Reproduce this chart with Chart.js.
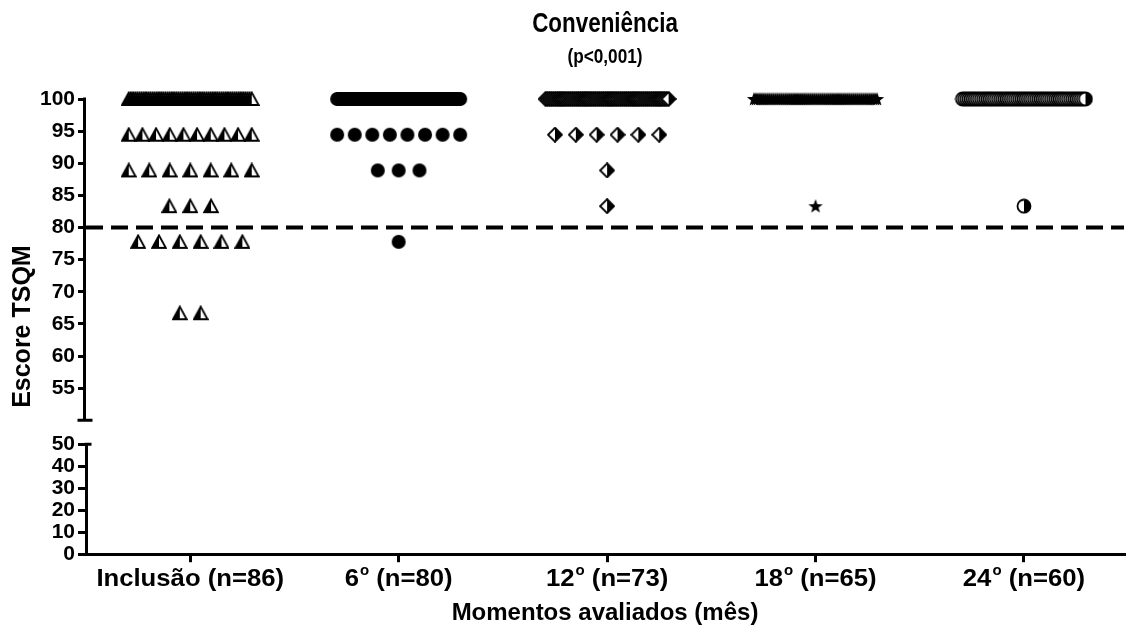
<!DOCTYPE html>
<html lang="pt">
<head>
<meta charset="utf-8">
<title>Conveniência</title>
<script src="https://cdn.jsdelivr.net/npm/chart.js@4.4.0/dist/chart.umd.min.js"></script>
<style>
  html, body { margin: 0; padding: 0; background: #fff; }
  #chart { display: block; }
</style>
</head>
<body>
<canvas id="chart" width="1132" height="630"></canvas>
<script>
const categories = ['Inclusão', '6', '12', '18', '24'];
const ordinals = [false, true, true, true, true];
const sampleSizes = [86, 80, 73, 65, 60];

// possible TSQM convenience scores, and how many patients scored each one per visit
const scoreLevels = [100, 94.44, 88.89, 83.33, 77.78, 66.67];
const countsInclusao = [58, 10, 7, 3, 6, 2];
const counts6 = [68, 8, 3, 0, 1, 0];
const counts12 = [65, 6, 1, 1, 0, 0];
const counts18 = [64, 0, 0, 1, 0, 0];
const counts24 = [59, 0, 0, 1, 0, 0];

const upperTicks = [55, 60, 65, 70, 75, 80, 85, 90, 95, 100];
const lowerTicks = [0, 10, 20, 30, 40, 50];
const cutoff = 80;
const upperAxisEnd = 50;

const chartTitle = 'Conveniência';
const chartSubtitle = '(p<0,001)';

const sans = "'Liberation Sans', Arial, Helvetica, sans-serif";

// symbols, drawn once on small canvases and used as pointStyle
function makeMarker(draw) {
  const c = document.createElement('canvas');
  c.width = 16;
  c.height = 16;
  const g = c.getContext('2d');
  g.fillStyle = '#000';
  g.strokeStyle = '#000';
  g.lineWidth = 1.8;
  g.lineJoin = 'miter';
  draw(g);
  return c;
}

const halfTriangle = makeMarker(g => {
  g.fillStyle = '#fff';
  g.beginPath(); g.moveTo(8, 1.5); g.lineTo(14.8, 14); g.lineTo(1.2, 14); g.closePath(); g.fill();
  g.fillStyle = '#000';
  g.beginPath(); g.moveTo(8, 1.5); g.lineTo(8, 14); g.lineTo(1.2, 14); g.closePath(); g.fill();
  g.beginPath(); g.moveTo(8, 1.5); g.lineTo(14.8, 14); g.lineTo(1.2, 14); g.closePath(); g.stroke();
});

const dot = makeMarker(g => {
  g.beginPath(); g.arc(8, 8, 7, 0, Math.PI * 2); g.fill();
});

const halfDiamond = makeMarker(g => {
  g.fillStyle = '#fff';
  g.beginPath(); g.moveTo(8, 1); g.lineTo(15, 8); g.lineTo(8, 15); g.lineTo(1, 8); g.closePath(); g.fill();
  g.fillStyle = '#000';
  g.beginPath(); g.moveTo(8, 1); g.lineTo(15, 8); g.lineTo(8, 15); g.closePath(); g.fill();
  g.beginPath(); g.moveTo(8, 1); g.lineTo(15, 8); g.lineTo(8, 15); g.lineTo(1, 8); g.closePath(); g.stroke();
});

const star = makeMarker(g => {
  g.beginPath();
  for (let i = 0; i < 10; i++) {
    const r = i % 2 === 0 ? 7.5 : 3.1;
    const a = -Math.PI / 2 + i * Math.PI / 5;
    const px = 8 + r * Math.cos(a), py = 8.5 + r * Math.sin(a);
    if (i === 0) g.moveTo(px, py); else g.lineTo(px, py);
  }
  g.closePath();
  g.fill();
});

const halfCircle = makeMarker(g => {
  g.fillStyle = '#fff';
  g.beginPath(); g.arc(8, 8, 6.5, 0, Math.PI * 2); g.fill();
  g.fillStyle = '#000';
  g.beginPath(); g.arc(8, 8, 6.5, -Math.PI / 2, Math.PI / 2); g.closePath(); g.fill();
  g.beginPath(); g.arc(8, 8, 6.5, 0, Math.PI * 2); g.stroke();
});

// spread patients with the same score sideways around the column centre
function columnPoints(groupIndex, counts) {
  const pts = [];
  counts.forEach((n, k) => {
    const step = n > 1 ? Math.min(0.1, 0.59 / (n - 1)) : 0;
    for (let i = 0; i < n; i++) {
      pts.push({ x: groupIndex + (i - (n - 1) / 2) * step, y: scoreLevels[k] });
    }
  });
  return pts;
}

const groups = [
  { counts: countsInclusao, marker: halfTriangle },
  { counts: counts6, marker: dot },
  { counts: counts12, marker: halfDiamond },
  { counts: counts18, marker: star },
  { counts: counts24, marker: halfCircle }
];

const datasets = groups.map((grp, i) => ({
  label: categories[i],
  data: columnPoints(i, grp.counts),
  yAxisID: 'yTop',
  pointStyle: grp.marker,
  pointRadius: 7,
  pointHoverRadius: 7,
  clip: false
}));

// text squeezed or stretched sideways around its centre
function drawScaledText(ctx, text, cx, y, font, sx) {
  ctx.save();
  ctx.font = font;
  ctx.textAlign = 'center';
  ctx.textBaseline = 'alphabetic';
  ctx.translate(cx, y);
  ctx.scale(sx, 1);
  ctx.fillText(text, 0, 0);
  ctx.restore();
}

const decorations = {
  id: 'decorations',
  beforeDatasetsDraw(chart) {
    const { ctx, chartArea, scales: { yTop } } = chart;
    const y = yTop.getPixelForValue(cutoff);
    ctx.save();
    ctx.strokeStyle = '#000';
    ctx.lineWidth = 4;
    ctx.setLineDash([17, 8]);
    ctx.beginPath();
    ctx.moveTo(chartArea.left, y);
    ctx.lineTo(chartArea.right, y);
    ctx.stroke();
    ctx.restore();
  },
  afterDraw(chart) {
    const { ctx, chartArea, scales: { x, yTop, yBottom } } = chart;
    const ax = chartArea.left - 1.5;
    const midX = (chartArea.left + chartArea.right) / 2;
    ctx.save();
    ctx.fillStyle = '#000';
    ctx.strokeStyle = '#000';
    ctx.lineWidth = 3;

    // title block
    drawScaledText(ctx, chartTitle, midX, 32, 'bold 27px ' + sans, 0.83);
    drawScaledText(ctx, chartSubtitle, midX, 63, 'bold 20px ' + sans, 0.86);

    // upper piece of the broken y axis, with its end cap
    const yHi = yTop.getPixelForValue(upperTicks[upperTicks.length - 1]) - 1.5;
    const yLo = yTop.getPixelForValue(upperAxisEnd);
    ctx.beginPath();
    ctx.moveTo(ax, yHi);
    ctx.lineTo(ax, yLo);
    ctx.moveTo(ax - 7, yLo);
    ctx.lineTo(ax + 8, yLo);
    const y50 = yBottom.getPixelForValue(lowerTicks[lowerTicks.length - 1]);
    ctx.moveTo(ax, y50);
    ctx.lineTo(ax + 7, y50);
    ctx.stroke();

    // category labels, with superscript ordinal
    ctx.textBaseline = 'alphabetic';
    ctx.textAlign = 'left';
    const baseFont = 'bold 24px ' + sans;
    const supFont = 'bold 14px ' + sans;
    const stretch = 1.07;
    const baseY = x.top + 32;
    categories.forEach((name, i) => {
      const sup = ordinals[i] ? 'o' : '';
      const rest = ' (n=' + sampleSizes[i] + ')';
      ctx.font = baseFont;
      const w1 = ctx.measureText(name).width;
      const w3 = ctx.measureText(rest).width;
      ctx.font = supFont;
      const w2 = sup ? ctx.measureText(sup).width + 1 : 0;
      ctx.save();
      ctx.translate(x.getPixelForValue(i), baseY);
      ctx.scale(stretch, 1);
      let cx = -(w1 + w2 + w3) / 2;
      ctx.font = baseFont;
      ctx.fillText(name, cx, 0);
      cx += w1;
      if (sup) {
        ctx.font = supFont;
        ctx.fillText(sup, cx + 1, -11);
        cx += w2;
      }
      ctx.font = baseFont;
      ctx.fillText(rest, cx, 0);
      ctx.restore();
    });

    // y axis title centred on the whole broken axis
    const midY = (yTop.top + yBottom.bottom) / 2;
    ctx.translate(23, midY);
    ctx.rotate(-Math.PI / 2);
    ctx.textAlign = 'center';
    ctx.textBaseline = 'middle';
    ctx.font = 'bold 25px ' + sans;
    ctx.fillText('Escore TSQM', 0, 0);
    ctx.restore();
  }
};

const tickGrid = { drawOnChartArea: false, drawTicks: true, tickLength: 8, color: '#000', lineWidth: 3 };
const tickFont = { family: sans, size: 21, weight: 'bold' };
const tickStyle = { color: '#000', font: tickFont, padding: 3, autoSkip: false, callback: v => String(v) };

new Chart(document.getElementById('chart'), {
  type: 'scatter',
  data: { datasets },
  options: {
    responsive: false,
    animation: false,
    events: [],
    layout: { padding: { left: 0, right: 1, top: 99, bottom: 0 } },
    plugins: {
      legend: { display: false },
      tooltip: { enabled: false }
    },
    scales: {
      x: {
        type: 'linear',
        min: -0.5,
        max: 4.48,
        ticks: { display: false, stepSize: 1, includeBounds: false },
        grid: tickGrid,
        border: { display: true, color: '#000', width: 3 },
        title: {
          display: true,
          text: 'Momentos avaliados (mês)',
          color: '#000',
          font: { family: sans, size: 24, weight: 'bold' },
          padding: { top: 37, bottom: 2 }
        }
      },
      // lower piece (0-50) comes first so the layout stacks it under the upper piece
      yBottom: {
        type: 'linear',
        position: 'left',
        stack: 'tsqm',
        stackWeight: 110,
        min: 0,
        max: 50,
        afterBuildTicks: s => { s.ticks = lowerTicks.map(v => ({ value: v })); },
        afterFit: s => { s.width = 86; },
        ticks: tickStyle,
        grid: tickGrid,
        border: { display: true, color: '#000', width: 3 }
      },
      yTop: {
        type: 'linear',
        position: 'left',
        stack: 'tsqm',
        stackWeight: 345,
        min: 46.3,
        max: 100,
        afterBuildTicks: s => { s.ticks = upperTicks.map(v => ({ value: v })); },
        afterFit: s => { s.width = 86; },
        ticks: tickStyle,
        grid: tickGrid,
        border: { display: false }
      }
    }
  },
  plugins: [decorations]
});
</script>
</body>
</html>
